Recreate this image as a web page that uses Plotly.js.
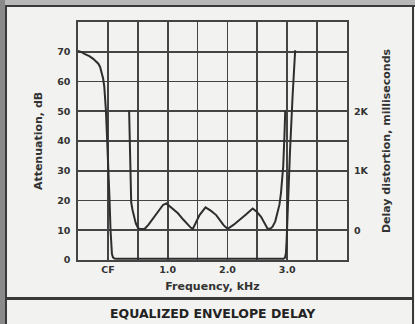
<!DOCTYPE html>
<html>
<head>
<meta charset="utf-8">
<script src="https://cdn.plot.ly/plotly-3.0.1.min.js"></script>
<style>
  html, body { margin:0; padding:0; background:#f2f2f0; }
  #wrap { position:relative; width:415px; height:324px; overflow:hidden; background:#f2f2f0; }
  #chart { position:absolute; left:0; top:0; width:415px; height:324px; }
  .bar { position:absolute; }
</style>
</head>
<body>
<div id="wrap">
  <div class="bar" style="left:0;top:0;width:415px;height:5px;background:#b8b8b8;"></div>
  <div class="bar" style="left:0;top:5px;width:415px;height:2px;background:#3a3a3a;"></div>
  <div class="bar" style="left:0;top:0;width:5px;height:324px;background:#8a8a8a;"></div>
  <div class="bar" style="left:5px;top:5px;width:2px;height:319px;background:#3a3a3a;"></div>
  <div class="bar" style="left:412px;top:5px;width:2px;height:319px;background:#3a3a3a;"></div>
  <div class="bar" style="left:5px;top:297px;width:409px;height:3px;background:#3a3a3a;"></div>
  <div id="chart"></div>
</div>
<script>
// Attenuation curve (left axis, dB) vs frequency (kHz, grid units)
const attFreq = [-0.5, -0.44, -0.383, -0.31, -0.245, -0.2, -0.16, -0.13, -0.105, -0.08, -0.06, -0.033, -0.012, 0.011, 0.028, 0.044, 0.055, 0.068, 0.085, 0.11, 0.145, 2.94, 2.962, 2.978, 2.99, 3.005, 3.045, 3.089, 3.133];
const attDb   = [70.3, 69.9, 69.2, 68.5, 67.6, 66.9, 66.0, 64.9, 63.2, 61.0, 58.2, 50.3, 40.2, 30.2, 20.1, 10.1, 4.8, 2.0, 0.9, 0.5, 0.4, 0.4, 0.8, 2.2, 6.5, 15.0, 35.8, 54.8, 70.5];

// Delay distortion curve (right axis, ms)
const delayFreq = [0.355, 0.365, 0.372, 0.378, 0.39, 0.412, 0.44, 0.467, 0.495, 0.522, 0.57, 0.617, 0.68, 0.755, 0.84, 0.922, 0.978, 1.07, 1.172, 1.26, 1.338, 1.385, 1.422, 1.47, 1.533, 1.633, 1.72, 1.812, 1.867, 1.935, 1.978, 2.005, 2.1, 2.2, 2.31, 2.422, 2.49, 2.562, 2.62, 2.672, 2.715, 2.755, 2.8, 2.838, 2.87, 2.895, 2.915, 2.933, 2.955, 2.967];
const delayMs   = [2015, 1500, 1000, 615, 470, 340, 210, 115, 55, 25, 20, 25, 95, 200, 320, 425, 450, 370, 285, 180, 85, 45, 25, 120, 255, 385, 330, 255, 170, 85, 45, 25, 90, 170, 265, 365, 310, 225, 110, 25, 25, 60, 150, 285, 430, 620, 820, 1075, 1630, 2015];

// Tick labels
const xTickVals = [-0.5, 0, 0.5, 1, 1.5, 2, 2.5, 3, 3.5, 4];
const xTickText = ['', 'CF', '', '1.0', '', '2.0', '', '3.0', '', ''];
const yTickVals = [0, 10, 20, 30, 40, 50, 60, 70, 80];
const yTickText = ['0', '10', '20', '30', '40', '50', '60', '70', ''];
const y2TickVals = [0, 1000, 2000];
const y2TickText = ['0', '1K', '2K'];

const titleText = 'EQUALIZED ENVELOPE DELAY';
const xTitle = 'Frequency, kHz';
const yTitle = 'Attenuation, dB';
const y2Title = 'Delay distortion, milliseconds';

const lineCol = '#2e2e2e';
const gridCol = '#444444';
const textCol = '#333333';
const fontFam = 'DejaVu Sans, sans-serif';

const traces = [
  { x: attFreq, y: attDb, type: 'scatter', mode: 'lines',
    line: { color: lineCol, width: 2, shape: 'linear' },
    hoverinfo: 'skip', yaxis: 'y' },
  { x: delayFreq, y: delayMs, type: 'scatter', mode: 'lines',
    line: { color: lineCol, width: 2, shape: 'linear' },
    hoverinfo: 'skip', yaxis: 'y2' }
];

const layout = {
  width: 415, height: 324,
  margin: { l: 78, r: 68, t: 22, b: 64 },
  paper_bgcolor: 'rgba(0,0,0,0)',
  plot_bgcolor: 'rgba(0,0,0,0)',
  showlegend: false,
  font: { family: fontFam, color: textCol },
  xaxis: {
    range: [-0.5, 4.0], tickmode: 'array', tickvals: xTickVals, ticktext: xTickText,
    showgrid: true, gridcolor: gridCol, gridwidth: 1.7,
    showline: true, linecolor: gridCol, linewidth: 1.7, mirror: true,
    zeroline: false, ticks: '', ticklen: 0,
    tickfont: { size: 9.5, family: fontFam, color: textCol, weight: 'bold' },
    title: { text: xTitle, standoff: 8, font: { size: 11, family: fontFam, color: textCol, weight: 'bold' } }
  },
  yaxis: {
    range: [0, 80], tickmode: 'array', tickvals: yTickVals, ticktext: yTickText,
    showgrid: true, gridcolor: gridCol, gridwidth: 1.7,
    showline: true, linecolor: gridCol, linewidth: 1.7, mirror: true,
    zeroline: false, ticks: 'outside', ticklen: 4, tickcolor: 'rgba(0,0,0,0)',
    tickfont: { size: 9.5, family: fontFam, color: textCol, weight: 'bold' },
    title: { text: yTitle, standoff: 12, font: { size: 11, family: fontFam, color: textCol, weight: 'bold' } }
  },
  yaxis2: {
    overlaying: 'y', side: 'right', range: [-500, 3500],
    tickmode: 'array', tickvals: y2TickVals, ticktext: y2TickText,
    showgrid: false, zeroline: false, showline: false,
    ticks: 'outside', ticklen: 4, tickcolor: 'rgba(0,0,0,0)',
    tickfont: { size: 9.5, family: fontFam, color: textCol, weight: 'bold' },
    title: { text: y2Title, standoff: 14, font: { size: 11, family: fontFam, color: textCol, weight: 'bold' } }
  },
  annotations: [
    { text: titleText, xref: 'paper', yref: 'paper', x: 0.5, y: 0, xanchor: 'center', yanchor: 'middle',
      showarrow: false, font: { size: 12.5, family: fontFam, color: '#222', weight: 'bold' },
      yshift: -53 }
  ]
};

Plotly.newPlot('chart', traces, layout, { staticPlot: true, displayModeBar: false });
</script>
</body>
</html>
